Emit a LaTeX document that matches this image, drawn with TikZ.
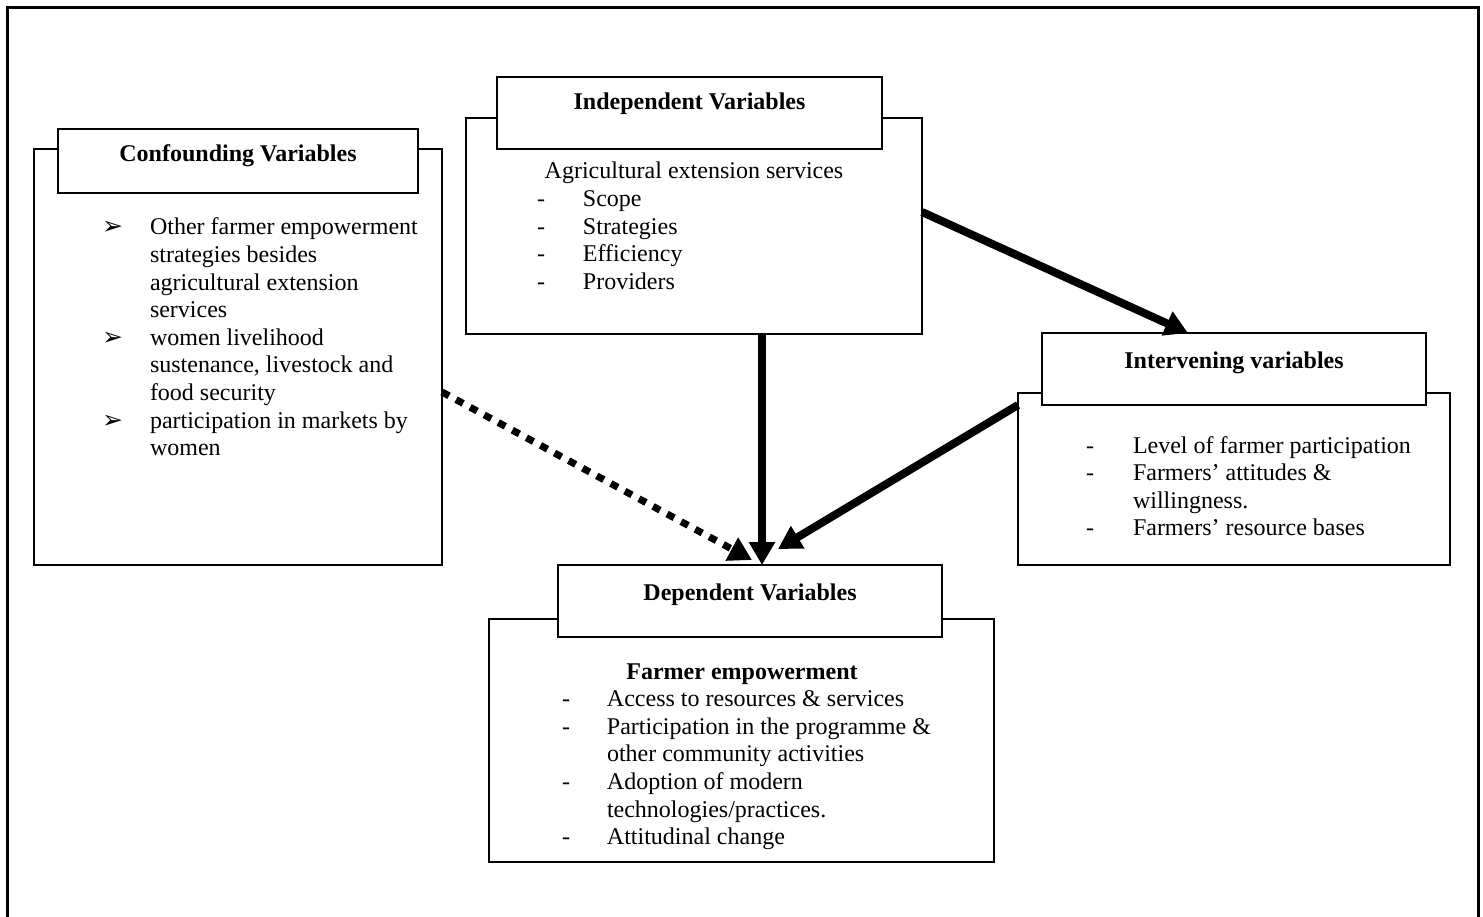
\documentclass[tikz,border=0pt]{standalone}
\usepackage{fontspec}
\setmainfont{Liberation Serif}
\newfontfamily\dejavu{DejaVu Sans}
\usetikzlibrary{arrows.meta}
\newcommand{\bulmark}{{\dejavu\fontsize{25}{25}\selectfont ➢}}
\begin{document}
\begin{tikzpicture}[x=1pt,y=-1pt,
  box/.style={draw, line width=2pt, inner sep=0pt, outer sep=0pt, fill=white},
  txt/.style={inner sep=0pt, outer sep=0pt, font=\fontsize{24}{27.6}\selectfont},
  ttl/.style={inner sep=0pt, outer sep=0pt, font=\fontsize{24}{27.6}\selectfont\bfseries},
  heavy/.style={line width=8pt, -{Triangle[width=25pt,length=23pt]}},
  dotarrow/.style={line width=7pt, dash pattern=on 8pt off 8pt, -{Triangle[width=25pt,length=23pt]}}
]
\useasboundingbox (0,0) rectangle (1483,917);
% outer frame
\draw[line width=3pt] (7.5,917) -- (7.5,7.5) -- (1478.5,7.5) -- (1478.5,917);

% outer boxes
\node[box, minimum width=408pt, minimum height=416pt] (conf) at (238,357) {};
\node[box, minimum width=456pt, minimum height=216pt] (indep) at (694,226) {};
\node[box, minimum width=432pt, minimum height=172pt] (interv) at (1234,479) {};
\node[box, minimum width=505pt, minimum height=243pt] (dep) at (741.5,740.5) {};

% title boxes
\node[box, minimum width=360pt, minimum height=64pt] (conft) at (238,161) {};
\node[box, minimum width=385pt, minimum height=72pt] (indt) at (689.5,113) {};
\node[box, minimum width=384pt, minimum height=72pt] (intt) at (1234,369) {};
\node[box, minimum width=384pt, minimum height=72pt] (dept) at (750,601) {};

% titles
\node[ttl, anchor=base] (conftl) at (238,162) {Confounding Variables};
\node[ttl, anchor=base] (indtl) at (689.5,110) {Independent Variables};
\node[ttl, anchor=base] (inttl) at (1234,368) {Intervening variables};
\node[ttl, anchor=base] (deptl) at (750,600) {Dependent Variables};

% confounding content
\node[txt, anchor=base west] (conflist) at (102,235) {\begin{tabular}[t]{@{}p{48pt}@{}l@{}}
\bulmark & Other farmer empowerment\\
 & strategies besides\\
 & agricultural extension\\
 & services\\
\bulmark & women livelihood\\
 & sustenance, livestock and\\
 & food security\\
\bulmark & participation in markets by\\
 & women
\end{tabular}};

% independent content
\node[txt, anchor=base] (indhead) at (694,179) {Agricultural extension services};
\node[txt, anchor=base west] (indlist) at (537,206.6) {\begin{tabular}[t]{@{}p{46pt}@{}l@{}}
- & Scope\\
- & Strategies\\
- & Efficiency\\
- & Providers
\end{tabular}};

% intervening content
\node[txt, anchor=base west] (intlist) at (1086,453) {\begin{tabular}[t]{@{}p{47pt}@{}l@{}}
- & Level of farmer participation\\
- & Farmers’ attitudes \&\\
 & willingness.\\
- & Farmers’ resource bases
\end{tabular}};

% dependent content
\node[ttl, anchor=base] (dephead) at (742,679) {Farmer empowerment};
\node[txt, anchor=base west] (deplist) at (562,706.6) {\begin{tabular}[t]{@{}p{45pt}@{}l@{}}
- & Access to resources \& services\\
- & Participation in the programme \&\\
 & other community activities\\
- & Adoption of modern\\
 & technologies/practices.\\
- & Attitudinal change
\end{tabular}};

% connectors
\draw[heavy] ([yshift=14pt]indep.east) -- ([xshift=-46pt]intt.north);
\draw[heavy] ([xshift=68pt]indep.south) -- ([xshift=12pt]dept.north);
\draw[heavy] ([yshift=74pt]interv.west) -- ([xshift=28pt,yshift=16pt]dept.north);
\draw[dotarrow] ([yshift=-35pt]conf.east) -- ([xshift=2pt,yshift=5pt]dept.north);
\end{tikzpicture}
\end{document}
